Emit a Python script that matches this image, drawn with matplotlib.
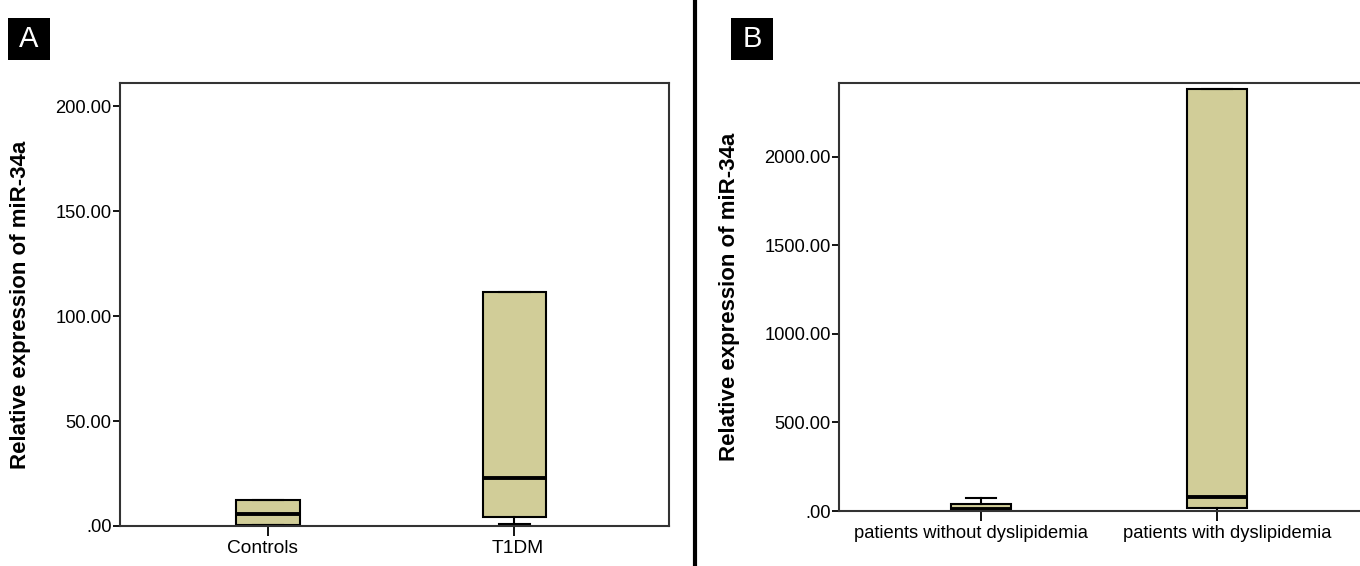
import matplotlib.pyplot as plt
from matplotlib.patches import Rectangle
from matplotlib.lines import Line2D
from matplotlib.transforms import ScaledTranslation

plt.rcParams['font.family'] = ['Liberation Sans', 'DejaVu Sans']

# panel A: miR-34a in controls vs T1DM
groups_a = ['Controls', 'T1DM']
q1_a = [0.5, 4.3]
med_a = [5.7, 22.9]
q3_a = [12.4, 111.4]
lo_a = [0.5, 1.0]
hi_a = [12.6, 111.6]
ticks_a = [0, 50, 100, 150, 200]

# panel B: patients without vs with dyslipidemia
groups_b = ['patients without dyslipidemia', 'patients with dyslipidemia']
q1_b = [5, 17]
med_b = [10, 79]
q3_b = [40, 2384]
lo_b = [0, 2]
hi_b = [73, 2386]
ticks_b = [0, 500, 1000, 1500, 2000]

FILL = '#d1cd98'


def fmt(v):
    s = '%.2f' % v
    return s[1:] if s.startswith('0') else s


def boxPanel(ax, groups, q1, med, q3, lo, hi, ticks, ymax, xlim, xfs, shifts):
    stats = []
    for i in range(len(groups)):
        stats.append(dict(med=med[i], q1=q1[i], q3=q3[i], whislo=lo[i], whishi=hi[i], fliers=[]))
    ax.bxp(stats, positions=[1, 2], widths=0.257, patch_artist=True, showfliers=False,
           boxprops=dict(facecolor=FILL, edgecolor='black', linewidth=1.5),
           medianprops=dict(color='black', linewidth=2.8),
           whiskerprops=dict(color='black', linewidth=1.5),
           capprops=dict(color='black', linewidth=1.5), capwidths=0.125)
    ax.set_xlim(*xlim)
    ax.set_ylim(0, ymax)
    ax.set_xticks([1, 2])
    ax.set_xticklabels(groups, fontsize=xfs)
    ax.set_yticks(ticks)
    ax.set_yticklabels([fmt(t) for t in ticks], fontsize=13.2)
    ax.tick_params(axis='x', length=7, width=1.3, pad=3)
    ax.tick_params(axis='y', length=5, width=1.3, pad=1)
    # labels sit a little off their ticks in the original
    for lab, dx in zip(ax.get_xticklabels(), shifts):
        lab.set_transform(lab.get_transform() + ScaledTranslation(dx / 100, 0, ax.figure.dpi_scale_trans))
    for sp in ax.spines.values():
        sp.set_linewidth(1.5)
        sp.set_color('#333333')
    ax.set_ylabel('Relative expression of miR-34a', fontsize=16, fontweight='bold')


fig = plt.figure(figsize=(13.6, 5.66), dpi=100)

axA = fig.add_axes([120 / 1360, 1 - 526 / 566, 549 / 1360, 443 / 566])
boxPanel(axA, groups_a, q1_a, med_a, q3_a, lo_a, hi_a, ticks_a, 211, (0.40, 2.627), 13.8, [-5, 3])
axA.yaxis.set_label_coords(-0.162, 0.5)

axB = fig.add_axes([839 / 1360, 1 - 511 / 566, 525 / 1360, 428 / 566])
boxPanel(axB, groups_b, q1_b, med_b, q3_b, lo_b, hi_b, ticks_b, 2418, (0.398, 2.623), 13.2, [-10, 10])
axB.yaxis.set_label_coords(-0.189, 0.5)

# panel letters
for x0, letter in [(8, 'A'), (731, 'B')]:
    fig.add_artist(Rectangle((x0 / 1360, 1 - 60 / 566), 42 / 1360, 42 / 566,
                             transform=fig.transFigure, facecolor='black', edgecolor='none'))
    fig.text((x0 + 21) / 1360, 1 - 39 / 566, letter, color='white', fontsize=21,
             ha='center', va='center')

# divider between panels
fig.add_artist(Line2D([695 / 1360, 695 / 1360], [0, 1], transform=fig.transFigure,
                      color='black', linewidth=3))

fig.savefig('out.png', dpi=100)
